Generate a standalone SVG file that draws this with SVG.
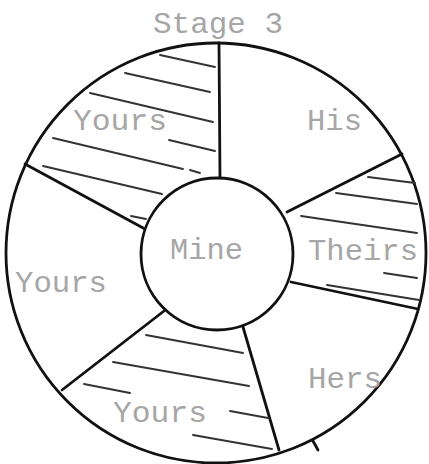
<svg xmlns="http://www.w3.org/2000/svg" width="429" height="464" viewBox="0 0 429 464">
<style>
.ring{fill:none;stroke:#111;stroke-width:2.8}
.div{stroke:#111;stroke-width:2.8;stroke-linecap:round}
.hatch{stroke:#333;stroke-width:1.9;stroke-linecap:round}
.lbl{font-family:"Liberation Mono","DejaVu Sans Mono",monospace;font-size:30px;fill:#a6a6a6}
</style>
<rect width="429" height="464" fill="#fff"/>
<text class="lbl" x="153" y="33" textLength="130" lengthAdjust="spacingAndGlyphs">Stage 3</text>
<g id="outer-ring"><circle class="ring" cx="216" cy="253" r="210"/></g>
<g id="connectors">
<line class="div" x1="219" y1="43" x2="220" y2="179"/>
<line class="div" x1="287" y1="212" x2="402" y2="154"/>
<line class="div" x1="291" y1="282" x2="418" y2="309"/>
<line class="div" x1="243" y1="327" x2="279" y2="450"/>
<line class="div" x1="164" y1="311" x2="62" y2="390"/>
<line class="div" x1="145" y1="229" x2="25" y2="164"/>
<line class="div" x1="313" y1="441" x2="318" y2="450"/>
</g>
<g id="sector-yours-top">
<line class="hatch" x1="160" y1="55" x2="215" y2="67"/>
<line class="hatch" x1="125" y1="73" x2="210" y2="92"/>
<line class="hatch" x1="90" y1="93" x2="213" y2="122"/>
<line class="hatch" x1="169" y1="140" x2="215" y2="151"/>
<line class="hatch" x1="53" y1="138" x2="183" y2="169"/>
<line class="hatch" x1="190" y1="170" x2="200" y2="173"/>
<line class="hatch" x1="43" y1="166" x2="162" y2="194"/>
<line class="hatch" x1="131" y1="216" x2="146" y2="219"/>
<text class="lbl" x="73" y="130" textLength="94" lengthAdjust="spacingAndGlyphs">Yours</text>
</g>
<g id="sector-his">
<text class="lbl" x="307" y="130" textLength="55" lengthAdjust="spacingAndGlyphs">His</text>
</g>
<g id="sector-theirs">
<line class="hatch" x1="368" y1="177" x2="415" y2="183"/>
<line class="hatch" x1="336" y1="193" x2="417" y2="204"/>
<line class="hatch" x1="301" y1="216" x2="417" y2="233"/>
<line class="hatch" x1="384" y1="273" x2="417" y2="278"/>
<line class="hatch" x1="327" y1="285" x2="419" y2="300"/>
<text class="lbl" x="308" y="260" textLength="110" lengthAdjust="spacingAndGlyphs">Theirs</text>
</g>
<g id="sector-hers">
<text class="lbl" x="308" y="388" textLength="74" lengthAdjust="spacingAndGlyphs">Hers</text>
</g>
<g id="sector-yours-bottom">
<line class="hatch" x1="146" y1="335" x2="243" y2="353"/>
<line class="hatch" x1="113" y1="362" x2="249" y2="386"/>
<line class="hatch" x1="84" y1="384" x2="130" y2="393"/>
<line class="hatch" x1="230" y1="411" x2="268" y2="418"/>
<line class="hatch" x1="193" y1="435" x2="272" y2="449"/>
<text class="lbl" x="113" y="422" textLength="94" lengthAdjust="spacingAndGlyphs">Yours</text>
</g>
<g id="sector-yours-left">
<text class="lbl" x="15" y="292" textLength="92" lengthAdjust="spacingAndGlyphs">Yours</text>
</g>
<g id="mine">
<circle cx="217" cy="254" r="76" fill="#fff" stroke="#111" stroke-width="2.8"/>
<text class="lbl" x="170" y="259" textLength="73" lengthAdjust="spacingAndGlyphs">Mine</text>
</g>
</svg>
